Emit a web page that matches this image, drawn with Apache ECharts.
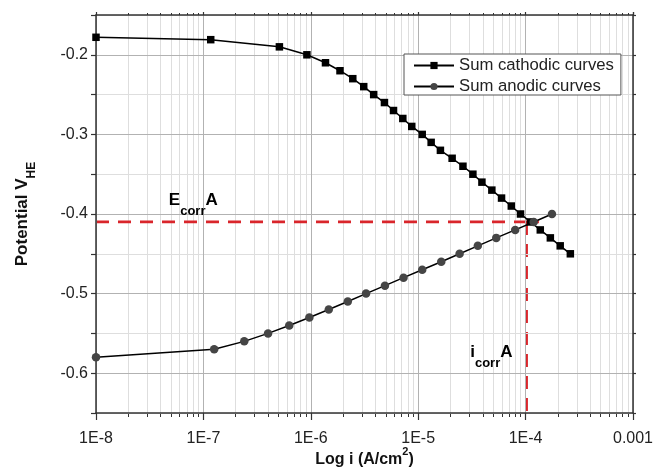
<!DOCTYPE html>
<html><head><meta charset="utf-8">
<script src="https://cdn.jsdelivr.net/npm/echarts@6/dist/echarts.min.js"></script>
<style>html,body{margin:0;padding:0;background:#fff}#c{width:655px;height:467px}</style>
</head><body><div id="c"></div>
<script>
// ---- data ----
const cathodicI = [1e-8, 1.17e-7, 5.1e-7, 9.2e-7, 1.37e-6, 1.87e-6, 2.46e-6, 3.11e-6, 3.85e-6, 4.85e-6,
  5.89e-6, 7.19e-6, 8.71e-6, 1.09e-5, 1.32e-5, 1.61e-5, 2.07e-5, 2.61e-5, 3.23e-5, 3.92e-5,
  4.85e-5, 5.97e-5, 7.36e-5, 8.97e-5, 1.11e-4, 1.37e-4, 1.70e-4, 2.10e-4, 2.61e-4];
const cathodicE = [-0.178, -0.181, -0.19, -0.20, -0.21, -0.22, -0.23, -0.24, -0.25, -0.26,
  -0.27, -0.28, -0.29, -0.30, -0.31, -0.32, -0.33, -0.34, -0.35, -0.36,
  -0.37, -0.38, -0.39, -0.40, -0.41, -0.42, -0.43, -0.44, -0.45];
const anodicI = [1e-8, 1.26e-7, 2.4e-7, 4.0e-7, 6.3e-7, 9.7e-7, 1.47e-6, 2.21e-6, 3.27e-6, 4.9e-6,
  7.3e-6, 1.09e-5, 1.64e-5, 2.43e-5, 3.59e-5, 5.33e-5, 8.0e-5, 1.19e-4, 1.76e-4];
const anodicE = [-0.58, -0.57, -0.56, -0.55, -0.54, -0.53, -0.52, -0.51, -0.50, -0.49,
  -0.48, -0.47, -0.46, -0.45, -0.44, -0.43, -0.42, -0.41, -0.40];
const seriesNames = ['Sum cathodic curves', 'Sum anodic curves'];
const xTickValues = [1e-8, 1e-7, 1e-6, 1e-5, 1e-4, 1e-3];
const xTickLabels = ['1E-8', '1E-7', '1E-6', '1E-5', '1E-4', '0.001'];
const yMajorTicks = [-0.6, -0.5, -0.4, -0.3, -0.2];
const Ecorr = [-0.41];
const icorr = [1.02e-4];
const ecorrLineEnd = [1.33e-4];
const ecorrLabelAt = [8.05e-8, -0.388];
const icorrLabelAt = [4.8e-5, -0.58];

// ---- helpers ----
const FONT = '"Liberation Sans", Arial, sans-serif';
const xMin = xTickValues[0], xMax = xTickValues[xTickValues.length - 1];
const yMin = -0.65, yMax = -0.15;
const minorLogs = [];
for (let d = Math.log10(xMin); d < Math.log10(xMax); d++) {
  for (let k = 2; k <= 9; k++) minorLogs.push(d + Math.log10(k));
}
const zip = (a, b) => a.map((v, i) => [v, b[i]]);
const xLabel = v => {
  const idx = xTickValues.findIndex(t => Math.abs(Math.log10(t) - Math.log10(v)) < 1e-6);
  return idx >= 0 ? xTickLabels[idx] : '';
};
const yLabel = v => {
  const hit = yMajorTicks.find(t => Math.abs(t - v) < 1e-6);
  return hit !== undefined ? hit.toFixed(1) : '';
};
const AX = '#333';
const RED = '#d9252b';

const chart = echarts.init(document.getElementById('c'), null, {renderer: 'canvas'});
chart.setOption({
  animation: false,
  backgroundColor: '#fff',
  textStyle: {fontFamily: FONT},
  grid: {left: 96, right: 22, top: 15, bottom: 54, containLabel: false, outerBoundsMode: 'none'},
  legend: {
    data: seriesNames, orient: 'vertical', left: 404, top: 54,
    backgroundColor: '#fff', borderColor: '#555', borderWidth: 1, borderRadius: 0,
    padding: [3, 7, 0, 9], itemWidth: 40, itemHeight: 9, itemGap: 4,
    textStyle: {fontSize: 16.7, color: '#222', fontFamily: FONT}
  },
  xAxis: [
    {
      type: 'log', logBase: 10, min: xMin, max: xMax, position: 'bottom', z: 3,
      axisLine: {show: true, lineStyle: {color: AX, width: 1.5}},
      axisTick: {show: true, length: 7, lineStyle: {color: AX, width: 1.2}},
      axisLabel: {formatter: xLabel, fontSize: 16, color: '#222', margin: 18, fontFamily: FONT},
      splitLine: {show: true, lineStyle: {color: '#b2b2b2', width: 1}},
      minorTick: {show: false}, minorSplitLine: {show: false},
      name: '{m|Log i (A/cm}{s|2}{m|)}', nameLocation: 'middle', nameGap: 33, nameMoveOverlap: false,
      nameTextStyle: {
        rich: {
          m: {fontSize: 16, fontWeight: 'bold', color: '#111', fontFamily: FONT, verticalAlign: 'bottom', lineHeight: 22},
          s: {fontSize: 11, fontWeight: 'bold', color: '#111', fontFamily: FONT, verticalAlign: 'top'}
        }
      }
    },
    {
      type: 'log', logBase: 10, min: xMin, max: xMax, position: 'top', z: 3,
      axisLine: {show: true, lineStyle: {color: AX, width: 1.5}},
      axisTick: {show: true, length: 3, lineStyle: {color: AX, width: 1.2}},
      axisLabel: {show: false}, splitLine: {show: false}
    },
    {
      type: 'value', min: Math.log10(xMin), max: Math.log10(xMax), position: 'bottom', z: 0,
      axisLine: {show: false},
      axisTick: {show: true, customValues: minorLogs, length: 4, lineStyle: {color: AX, width: 1}},
      axisLabel: {show: false},
      splitLine: {show: true, lineStyle: {color: '#dedede', width: 1}}
    },
    {
      type: 'value', min: Math.log10(xMin), max: Math.log10(xMax), position: 'top', z: 0,
      axisLine: {show: false},
      axisTick: {show: true, customValues: minorLogs, length: 2, lineStyle: {color: AX, width: 1}},
      axisLabel: {show: false}, splitLine: {show: false}
    }
  ],
  yAxis: [
    {
      type: 'value', min: yMin, max: yMax, interval: 0.05, position: 'left', z: 3,
      axisLine: {show: true, lineStyle: {color: AX, width: 1.5}},
      axisTick: {show: true, length: 5, lineStyle: {color: AX, width: 1.2}},
      axisLabel: {formatter: yLabel, fontSize: 16, color: '#222', margin: 8, fontFamily: FONT},
      splitLine: {show: true, lineStyle: {color: ['#dedede', '#b2b2b2'], width: 1}},
      name: '{m|Potential V}{s|HE}', nameLocation: 'middle', nameGap: 58, nameRotate: 90, nameMoveOverlap: false,
      nameTextStyle: {
        rich: {
          m: {fontSize: 17, fontWeight: 'bold', color: '#111', fontFamily: FONT, verticalAlign: 'top', lineHeight: 24},
          s: {fontSize: 12, fontWeight: 'bold', color: '#111', fontFamily: FONT, verticalAlign: 'bottom'}
        }
      }
    },
    {
      type: 'value', min: yMin, max: yMax, interval: 0.05, position: 'right', z: 3,
      axisLine: {show: true, lineStyle: {color: AX, width: 1.5}},
      axisTick: {show: true, length: 3, lineStyle: {color: AX, width: 1.2}},
      axisLabel: {show: false}, splitLine: {show: false}
    }
  ],
  series: [
    {
      name: 'Ecorr line', type: 'line', xAxisIndex: 0, yAxisIndex: 0, z: 2, silent: true,
      data: [[xMin, Ecorr[0]], [ecorrLineEnd[0], Ecorr[0]]], symbol: 'none',
      lineStyle: {color: RED, width: 2.8, type: [13, 9]},
      markPoint: {
        symbol: 'circle', symbolSize: 1, itemStyle: {color: 'rgba(0,0,0,0)'}, silent: true,
        data: [
          {coord: ecorrLabelAt, label: {show: true, position: 'inside', formatter: '{m|E}{s|corr}{m|A}'}},
          {coord: icorrLabelAt, label: {show: true, position: 'inside', formatter: '{m|i}{s|corr}{m|A}'}}
        ],
        label: {
          rich: {
            m: {fontSize: 17, fontWeight: 'bold', color: '#000', fontFamily: FONT, verticalAlign: 'top', lineHeight: 26},
            s: {fontSize: 13, fontWeight: 'bold', color: '#000', fontFamily: FONT, verticalAlign: 'bottom'}
          }
        }
      }
    },
    {
      name: 'icorr line', type: 'line', xAxisIndex: 0, yAxisIndex: 0, z: 2, silent: true,
      data: [[icorr[0], Ecorr[0]], [icorr[0], yMin]], symbol: 'none',
      lineStyle: {color: RED, width: 2.8, type: [13, 9]}
    },
    {
      name: seriesNames[0], type: 'line', xAxisIndex: 0, yAxisIndex: 0, z: 4,
      data: zip(cathodicI, cathodicE), symbol: 'rect', symbolSize: 7.5, showAllSymbol: true,
      itemStyle: {color: '#000'}, lineStyle: {color: '#000', width: 1.5}
    },
    {
      name: seriesNames[1], type: 'line', xAxisIndex: 0, yAxisIndex: 0, z: 4,
      data: zip(anodicI, anodicE), symbol: 'circle', symbolSize: 8.5, showAllSymbol: true,
      itemStyle: {color: '#454545'}, lineStyle: {color: '#000', width: 1.5}
    }
  ]
});
</script>
</body></html>
